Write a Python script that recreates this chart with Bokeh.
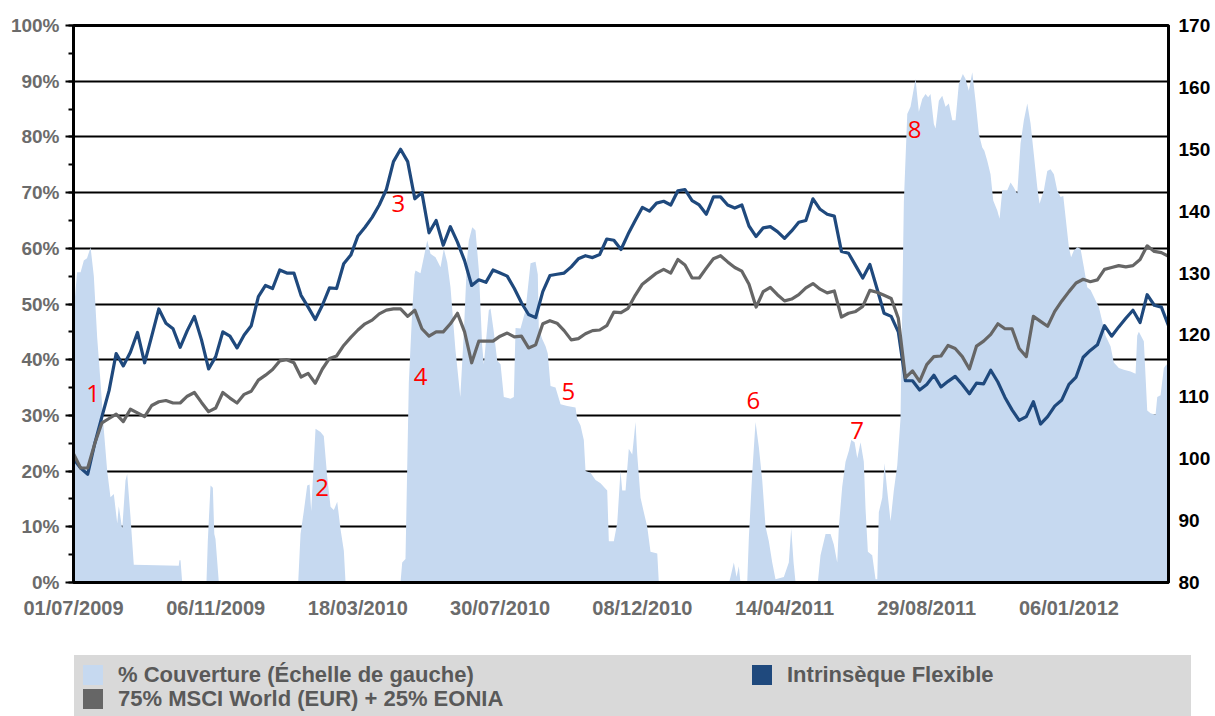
from bokeh.plotting import figure
from bokeh.models import (Range1d, LinearAxis, FixedTicker, SingleIntervalTicker,
                          PrintfTickFormatter, ColumnDataSource, Div)
from bokeh.layouts import column
from bokeh.embed import file_html
from bokeh.resources import INLINE
from bokeh.core.properties import value

# ---------------- data ----------------
x_labels = ["01/07/2009", "06/11/2009", "18/03/2010", "30/07/2010",
            "08/12/2010", "14/04/2011", "29/08/2011", "06/01/2012"]
x_label_obs = [0, 20, 40, 60, 80, 100, 120, 140]

intrinseque = [100, 98.5, 97.5, 102.5, 106.8, 111, 117, 115, 117.2, 120.4,
               115.5, 119.8, 124.2, 121.9, 121, 118, 120.7, 123, 119.2, 114.5,
               116.5, 120.5, 119.8, 117.9, 120, 121.5, 126.2, 128, 127.5, 130.5,
               130, 130, 126.4, 124.5, 122.5, 124.8, 127.6, 127.5, 131.5, 132.9,
               136, 137.4, 139, 141, 143.5, 148, 150, 148, 142, 143,
               136.5, 138.5, 134.5, 137.5, 135, 132, 128, 128.9, 128.5, 130.5,
               130, 129.5, 127.5, 125.2, 123.3, 122.8, 127, 129.6, 129.8, 130,
               131, 132.3, 132.8, 132.5, 133, 135.5, 135.3, 133.8, 136.3, 138.5,
               140.6, 140, 141.3, 141.6, 141, 143.3, 143.5, 141.7, 141, 139.5,
               142.3, 142.3, 141, 140.5, 141, 137.6, 135.9, 137.3, 137.5, 136.7,
               135.6, 136.8, 138.2, 138.5, 142, 140.3, 139.5, 139.2, 133.5, 133.2,
               131.2, 129.2, 131.4, 127.5, 123.5, 123, 120.5, 112.6, 112.6, 111.1,
               112, 113.5, 111.6, 112.5, 113.3, 112, 110.5, 112.2, 112.1, 114.3,
               112.4, 109.9, 107.9, 106.2, 106.8, 109.2, 105.6, 106.8, 108.5, 109.5,
               112, 113.2, 116.4, 117.5, 118.4, 121.5, 119.8, 121.3, 122.7, 124,
               122, 126.5, 124.8, 124.5, 121.5]

msci = [100.8, 98.5, 98.5, 102.5, 105.8, 106.5, 107.2, 106, 108, 107.4,
        106.8, 108.6, 109.2, 109.4, 109, 109, 110.1, 110.7, 109.1, 107.6,
        108.2, 110.7, 109.8, 109, 110.4, 110.9, 112.7, 113.5, 114.4, 115.8,
        116, 115.5, 113.2, 113.8, 112.2, 114.5, 116.2, 116.6, 118.3, 119.6,
        120.8, 121.8, 122.4, 123.4, 124, 124.2, 124.2, 123, 124, 121,
        119.8, 120.5, 120.5, 121.8, 123.5, 120.5, 115.5, 119, 119, 119,
        119.8, 120.3, 119.7, 119.8, 117.9, 118.4, 121.8, 122.3, 121.9, 120.7,
        119.2, 119.4, 120.2, 120.7, 120.8, 121.5, 123.7, 123.6, 124.3, 126.4,
        128.2, 129.1, 130, 130.6, 130, 132.2, 131.3, 129.2, 129.2, 130.8,
        132.3, 132.8, 131.8, 130.9, 130.3, 128.2, 124.5, 127, 127.7, 126.5,
        125.5, 125.8, 126.5, 127.6, 128.3, 127.4, 126.8, 127.1, 122.9, 123.5,
        123.8, 124.6, 127.2, 126.9, 126.4, 125.9, 122.7, 113.1, 114.2, 112.5,
        115.2, 116.5, 116.6, 118.3, 117.8, 116.5, 114.5, 118.2, 119, 120.1,
        121.8, 121, 121, 117.8, 116.5, 123, 122.2, 121.4, 123.8, 125.5,
        127, 128.4, 129, 128.6, 128.9, 130.6, 130.9, 131.2, 131, 131.2,
        132.2, 134.4, 133.5, 133.3, 132.7]

obs = list(range(len(intrinseque)))

# coverage (% left axis): (observation, %)
cover_pts = [
    (0, 48), (0.5, 55.7), (1.0, 55.7), (1.45, 57.8), (1.9, 58.2), (2.4, 60.2),
    (2.86, 55), (3.33, 44), (3.8, 36), (4.26, 27.5), (4.74, 20), (5.2, 15.3),
    (5.67, 15.9), (6.15, 10.6), (6.37, 13.7), (6.85, 9.6), (7.31, 18.3),
    (7.55, 19.5), (8.02, 11.7), (8.48, 3.2), (14.8, 3.0), (14.9, 4.0),
    (15.05, 4.0), (15.29, 0),
    (18.7, 0), (18.89, 7.5), (19.27, 17.4), (19.6, 17.0), (19.8, 8.7),
    (19.97, 7.8), (20.44, 0),
    (31.6, 0), (31.93, 8.7), (32.39, 12.8), (32.87, 17.4), (33.2, 17.6),
    (33.43, 12.8), (34.04, 27.6), (34.74, 27.0), (35.2, 26.3), (35.68, 19.0),
    (36.15, 13.6), (36.61, 13.0), (37.09, 14.5), (37.55, 9.6), (38.02, 5.7),
    (38.26, 0),
    (45.99, 0), (46.23, 3.6), (46.69, 4.2), (47.16, 35.9), (47.64, 48.9),
    (47.96, 55.3), (48.1, 56.0), (48.8, 55.5), (49.75, 61.4), (50.21, 59.0),
    (50.91, 58.4), (51.62, 56.6), (52.08, 59.9), (52.56, 57.5), (53.02, 53.0),
    (53.7, 42.0), (54.4, 33.3), (54.9, 45.0), (55.35, 58.0), (55.6, 61.4),
    (56.08, 63.8), (56.54, 63.2), (57.01, 56.0), (57.48, 42.4), (57.71, 39.2),
    (58.41, 48.9), (58.65, 49.2), (59.11, 45.0), (59.59, 39.8), (60.06, 39.2),
    (60.52, 33.3), (61.46, 33.0), (61.93, 33.3), (62.17, 45.7), (62.87, 45.6),
    (63.57, 48.9), (64.28, 57.3), (64.98, 57.6), (65.3, 55.3), (65.44, 45.6),
    (65.92, 43.7), (66.39, 42.4), (66.7, 41.1), (67.09, 35.3), (67.79, 35.0),
    (68.5, 32.0), (69.44, 31.7), (70.6, 31.4), (70.84, 29.4), (71.31, 28.2),
    (71.77, 25.6), (72.01, 20.0), (72.71, 19.7), (73.42, 18.4), (74.12, 17.8),
    (75.06, 16.5), (75.29, 7.4), (75.99, 7.4), (76.47, 10.7), (76.93, 20.0),
    (77.17, 16.5), (77.64, 16.5), (78.1, 24.0), (78.58, 23.0), (79.04, 28.8),
    (79.28, 23.0), (79.75, 15.2), (80.21, 12.6), (80.69, 10.0), (81.15, 5.5),
    (82.1, 5.2), (82.32, 0),
    (92.2, 0), (92.4, 1.0), (92.87, 3.6), (93.25, 1.0), (93.57, 2.9),
    (93.8, 0), (94.75, 0), (94.98, 8.0), (95.46, 19.7), (95.92, 28.8),
    (96.39, 24.3), (96.86, 18.4), (97.33, 10.0), (97.79, 7.4), (98.27, 3.6),
    (98.73, 0.6), (99.9, 1.0), (100.6, 3.6), (100.94, 9.7), (101.27, 3.6),
    (101.55, 0),
    (104.68, 0), (105.06, 4.9), (105.77, 8.7), (106.47, 8.7), (106.93, 6.8),
    (107.41, 3.6), (107.64, 10.0), (108.11, 17.2), (108.58, 21.7),
    (109.04, 23.6), (109.38, 25.6), (109.85, 25.2), (110.23, 22.3),
    (110.69, 25.2), (111.15, 21.7), (111.39, 13.3), (111.72, 5.5),
    (112.33, 4.9), (112.8, 0.6), (113.04, 0.6), (113.26, 12.6), (113.74, 15.2),
    (114.06, 21.4), (114.44, 16.5), (114.91, 11.0), (115.37, 16.5),
    (115.85, 21.0), (116.31, 29.4), (116.55, 48.9), (116.78, 68.3),
    (117.26, 84.1), (117.72, 85.4), (118.42, 90.4), (118.89, 84.5),
    (119.37, 86.8), (119.83, 87.7), (120.2, 87.1), (120.53, 87.7),
    (121.0, 82.3), (121.24, 81.5), (121.7, 86.5), (122.18, 87.4),
    (122.64, 85.4), (123.11, 86.0), (123.59, 83.0), (124.05, 83.0),
    (124.51, 89.5), (125.08, 91.3), (125.46, 90.4), (125.92, 88.3),
    (126.4, 91.6), (126.86, 86.5), (127.33, 80.5), (127.81, 78.1),
    (128.1, 77.5), (128.51, 75.7), (128.97, 73.3), (129.35, 68.6),
    (129.92, 66.8), (130.24, 65.3), (130.62, 70.4), (131.32, 70.4),
    (131.79, 71.8), (132.2, 71.0), (132.73, 69.8), (133.19, 78.8),
    (133.66, 83.0), (134.14, 86.0), (134.6, 82.4), (135.06, 76.9),
    (135.54, 71.0), (135.86, 68.0), (136.47, 70.4), (136.95, 73.9),
    (137.41, 74.2), (137.88, 73.3), (138.35, 70.4), (138.82, 69.2),
    (139.2, 69.4), (139.99, 60.2), (140.3, 58.4), (140.69, 59.6),
    (141.17, 60.2), (141.63, 59.9), (142.1, 56.6), (142.57, 53.0),
    (143.04, 52.5), (143.5, 51.3), (144.21, 49.4), (144.68, 46.9),
    (145.15, 44.3), (145.85, 42.4), (146.31, 39.5), (147.02, 38.5),
    (147.72, 38.2), (148.66, 37.9), (149.37, 37.5), (149.6, 44.3),
    (149.83, 45.0), (150.53, 43.3), (151.01, 30.9), (151.48, 30.4),
    (152.18, 30.1), (152.42, 33.3), (152.88, 33.6), (153.35, 38.5),
    (153.73, 39.2), (154, 38.0),
]
cover_x = [a for a, b in cover_pts]
cover_y = [b for a, b in cover_pts]

note_text = ["1", "2", "3", "4", "5", "6", "7", "8"]
note_obs = [2.77, 34.98, 45.7, 48.8, 69.6, 95.6, 110.2, 118.3]
note_pct = [33.9, 17.1, 68.1, 36.9, 34.3, 32.7, 27.3, 81.4]

legend_labels = ["% Couverture (Échelle de gauche)",
                 "75% MSCI World (EUR) + 25% EONIA",
                 "Intrinsèque Flexible"]

# ---------------- style ----------------
C_AREA = "#c6d9f0"
C_BLUE = "#1f497d"
C_GRAY = "#666666"
FONT = "Liberation Sans"

p = figure(width=1215, height=640, x_range=Range1d(0, 154), y_range=Range1d(0, 100),
           output_backend="svg", toolbar_location=None,
           min_border_left=73, min_border_right=47, min_border_top=25,
           min_border_bottom=58)
p.extra_y_ranges = {"right": Range1d(80, 170)}

p.background_fill_color = "white"
p.border_fill_color = "white"
p.outline_line_color = "black"
p.outline_line_width = 3

# area, lines
p.varea(x=cover_x, y1=0, y2=cover_y, fill_color=C_AREA)
p.line(obs, intrinseque, y_range_name="right", line_color=C_BLUE, line_width=3.2,
       line_join="round")
p.line(obs, msci, y_range_name="right", line_color=C_GRAY, line_width=3.2,
       line_join="round")

src_notes = ColumnDataSource(dict(x=note_obs, y=note_pct, t=note_text))
p.text(x="x", y="y", text="t", source=src_notes, text_color="#ff0000",
       text_font=value("Open Sans"), text_font_size="24px",
       text_align="center", text_baseline="middle")

# left axis
yl = p.yaxis[0]
yl.ticker = SingleIntervalTicker(interval=10, num_minor_ticks=2)
yl.formatter = PrintfTickFormatter(format="%d%%")
yl.axis_line_width = 3
yl.axis_line_color = "black"
yl.major_tick_out = 8
yl.major_tick_in = 0
yl.major_tick_line_width = 2
yl.minor_tick_out = 5
yl.minor_tick_in = 0
yl.minor_tick_line_width = 2
yl.major_label_standoff = 6
yl.major_label_text_font = FONT
yl.major_label_text_font_style = "bold"
yl.major_label_text_font_size = "19px"
yl.major_label_text_color = "#6b6b6b"

p.ygrid.ticker = SingleIntervalTicker(interval=10)
p.ygrid.grid_line_color = "black"
p.ygrid.grid_line_width = 2
p.xgrid.visible = False

# right axis
yr = LinearAxis(y_range_name="right", ticker=SingleIntervalTicker(interval=10, num_minor_ticks=0))
yr.axis_line_width = 3
yr.axis_line_color = "black"
yr.major_tick_out = 0
yr.major_tick_in = 0
yr.minor_tick_out = 0
yr.minor_tick_in = 0
yr.major_label_standoff = 10
yr.major_label_text_font = FONT
yr.major_label_text_font_style = "bold"
yr.major_label_text_font_size = "19px"
yr.major_label_text_color = "black"
p.add_layout(yr, "right")

# bottom axis
xa = p.xaxis[0]
xa.ticker = FixedTicker(ticks=x_label_obs)
xa.major_label_overrides = {k: v for k, v in zip(x_label_obs, x_labels)}
xa.axis_line_width = 3
xa.axis_line_color = "black"
xa.major_tick_out = 0
xa.major_tick_in = 0
xa.minor_tick_out = 0
xa.minor_tick_in = 0
xa.major_label_standoff = 14
xa.major_label_text_font = FONT
xa.major_label_text_font_style = "bold"
xa.major_label_text_font_size = "20px"
xa.major_label_text_color = "#6b6b6b"

# ---------------- legend strip (HTML, real text) ----------------
def key(left, top, color, label):
    return (f'<div style="position:absolute;left:{left}px;top:{top}px;width:20px;'
            f'height:20px;background:{color};"></div>'
            f'<div style="position:absolute;left:{left + 35}px;top:{top - 3}px;'
            f'line-height:26px;white-space:nowrap;">{label}</div>')

legend_html = (
    '<div style="position:relative;margin-left:74px;margin-top:15px;width:1117px;'
    'height:61px;background:#d9d9d9;font-family:\'Liberation Sans\',sans-serif;'
    'font-weight:bold;font-size:22px;color:#595959;">'
    + key(9, 10, C_AREA, legend_labels[0])
    + key(9, 34, C_GRAY, legend_labels[1])
    + key(678, 10, C_BLUE, legend_labels[2])
    + '</div>'
)
leg = Div(text=legend_html, width=1215, height=76, margin=(0, 0, 0, 0))

layout = column(p, leg, spacing=0)
open("out.html", "w").write(file_html(layout, INLINE))
